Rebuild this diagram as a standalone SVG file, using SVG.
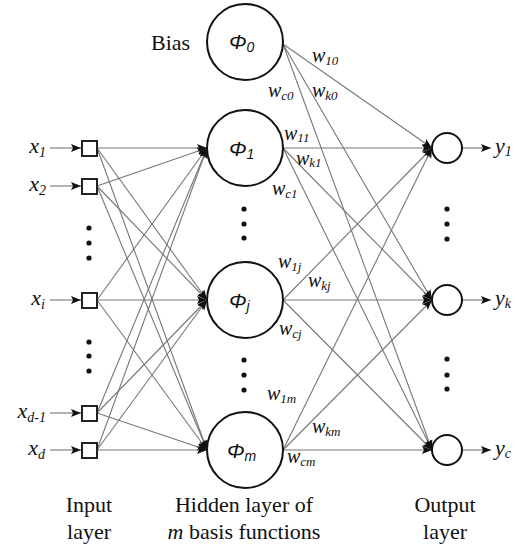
<svg xmlns="http://www.w3.org/2000/svg" width="524" height="548" viewBox="0 0 524 548">
<style>
text{font-family:'Liberation Serif','Times New Roman',serif;font-size:22px;fill:#111}
.i{font-style:italic}
.s{font-size:14px}
.w text{font-size:20px;font-style:italic}
.w .s{font-size:13px}
text.phi{font-family:'Liberation Sans',Arial,sans-serif;font-style:italic;font-size:21px}
.c{fill:#fff;stroke:#111;stroke-width:2}
.sq{fill:#fff;stroke:#222;stroke-width:2}
.ln line{stroke:#777;stroke-width:1.1;marker-end:url(#ah)}
.dot{fill:#111}
</style>
<defs>
<marker id="ah" markerUnits="userSpaceOnUse" markerWidth="11" markerHeight="9" refX="10" refY="4" orient="auto">
<path d="M0,0 L10,4 L0,8 L2,4 z" fill="#111"/>
</marker>
</defs>
<g id="connectors" class="ln">
<line x1="50" y1="148" x2="81" y2="148"/>
<line x1="50" y1="186" x2="81" y2="186"/>
<line x1="50" y1="300" x2="81" y2="300"/>
<line x1="50" y1="413" x2="81" y2="413"/>
<line x1="50" y1="450" x2="81" y2="450"/>
<line x1="97" y1="148" x2="207" y2="148"/>
<line x1="97" y1="148" x2="207" y2="300"/>
<line x1="97" y1="148" x2="207" y2="450"/>
<line x1="97" y1="186" x2="207" y2="148"/>
<line x1="97" y1="186" x2="207" y2="300"/>
<line x1="97" y1="186" x2="207" y2="450"/>
<line x1="97" y1="300" x2="207" y2="148"/>
<line x1="97" y1="300" x2="207" y2="300"/>
<line x1="97" y1="300" x2="207" y2="450"/>
<line x1="97" y1="413" x2="207" y2="148"/>
<line x1="97" y1="413" x2="207" y2="300"/>
<line x1="97" y1="413" x2="207" y2="450"/>
<line x1="97" y1="450" x2="207" y2="148"/>
<line x1="97" y1="450" x2="207" y2="300"/>
<line x1="97" y1="450" x2="207" y2="450"/>
<line x1="283" y1="44" x2="432" y2="148"/>
<line x1="283" y1="44" x2="432" y2="300"/>
<line x1="283" y1="44" x2="432" y2="450"/>
<line x1="283" y1="148" x2="432" y2="148"/>
<line x1="283" y1="148" x2="432" y2="300"/>
<line x1="283" y1="148" x2="432" y2="450"/>
<line x1="283" y1="300" x2="432" y2="148"/>
<line x1="283" y1="300" x2="432" y2="300"/>
<line x1="283" y1="300" x2="432" y2="450"/>
<line x1="283" y1="450" x2="432" y2="148"/>
<line x1="283" y1="450" x2="432" y2="300"/>
<line x1="283" y1="450" x2="432" y2="450"/>
<line x1="462" y1="148" x2="491" y2="148"/>
<line x1="462" y1="300" x2="491" y2="300"/>
<line x1="462" y1="450" x2="491" y2="450"/>
</g>
<g id="weights" class="w">
<text x="312" y="62">w<tspan class="s" dy="3">10</tspan></text>
<text x="268" y="97">w<tspan class="s" dy="3">c0</tspan></text>
<text x="312" y="97">w<tspan class="s" dy="3">k0</tspan></text>
<text x="284" y="140">w<tspan class="s" dy="2">11</tspan></text>
<text x="296" y="165">w<tspan class="s" dy="2">k1</tspan></text>
<text x="272" y="195">w<tspan class="s" dy="3">c1</tspan></text>
<text x="278" y="268">w<tspan class="s" dy="3">1j</tspan></text>
<text x="308" y="287">w<tspan class="s" dy="3">kj</tspan></text>
<text x="279" y="335">w<tspan class="s" dy="3">cj</tspan></text>
<text x="267" y="400">w<tspan class="s" dy="3">1m</tspan></text>
<text x="312" y="433">w<tspan class="s" dy="3">km</tspan></text>
<text x="287" y="463">w<tspan class="s" dy="3">cm</tspan></text>
</g>
<g id="input-1"><rect class="sq" x="82" y="141" width="15" height="15"/><text class="i" x="46" y="153" text-anchor="end">x<tspan class="s" dy="4">1</tspan></text></g>
<g id="input-2"><rect class="sq" x="82" y="179" width="15" height="15"/><text class="i" x="46" y="191" text-anchor="end">x<tspan class="s" dy="4">2</tspan></text></g>
<g id="input-i"><rect class="sq" x="82" y="293" width="15" height="15"/><text class="i" x="45" y="305" text-anchor="end">x<tspan class="s" dy="4">i</tspan></text></g>
<g id="input-d1"><rect class="sq" x="82" y="406" width="15" height="15"/><text class="i" x="46" y="418" text-anchor="end">x<tspan class="s" dy="4">d-1</tspan></text></g>
<g id="input-d"><rect class="sq" x="82" y="443" width="15" height="15"/><text class="i" x="45" y="455" text-anchor="end">x<tspan class="s" dy="4">d</tspan></text></g>
<g id="input-dots" class="dot"><circle cx="89" cy="228" r="2.6"/><circle cx="89" cy="243" r="2.6"/><circle cx="89" cy="258" r="2.6"/><circle cx="89" cy="342" r="2.6"/><circle cx="89" cy="356" r="2.6"/><circle cx="89" cy="371" r="2.6"/></g>
<g id="bias"><circle class="c" cx="245" cy="42" r="38"/><text x="151" y="50">Bias</text><text class="phi" x="229" y="49">Φ<tspan class="s" dy="3">0</tspan></text></g>
<g id="hidden-1"><circle class="c" cx="245" cy="148" r="38"/><text class="phi" x="229" y="156">Φ<tspan class="s" dy="3">1</tspan></text></g>
<g id="hidden-j"><circle class="c" cx="245" cy="300" r="38"/><text class="phi" x="229" y="308">Φ<tspan class="s" dy="3">j</tspan></text></g>
<g id="hidden-m"><circle class="c" cx="245" cy="450" r="38"/><text class="phi" x="227" y="458">Φ<tspan class="s" dy="3">m</tspan></text></g>
<g id="hidden-dots" class="dot"><circle cx="244" cy="209" r="2.6"/><circle cx="244" cy="224" r="2.6"/><circle cx="244" cy="238" r="2.6"/><circle cx="244" cy="360" r="2.6"/><circle cx="244" cy="375" r="2.6"/><circle cx="244" cy="390" r="2.6"/></g>
<g id="output-1"><circle class="c" cx="447" cy="148" r="15"/><text class="i" x="495" y="153">y<tspan class="s" dy="3">1</tspan></text></g>
<g id="output-k"><circle class="c" cx="447" cy="300" r="15"/><text class="i" x="495" y="305">y<tspan class="s" dy="3">k</tspan></text></g>
<g id="output-c"><circle class="c" cx="447" cy="450" r="15"/><text class="i" x="495" y="455">y<tspan class="s" dy="3">c</tspan></text></g>
<g id="output-dots" class="dot"><circle cx="447" cy="209" r="2.6"/><circle cx="447" cy="224" r="2.6"/><circle cx="447" cy="239" r="2.6"/><circle cx="447" cy="359" r="2.6"/><circle cx="447" cy="375" r="2.6"/><circle cx="447" cy="389" r="2.6"/></g>
<g id="labels" text-anchor="middle">
<text x="89" y="512">Input</text><text x="89" y="539">layer</text>
<text x="244" y="512">Hidden layer of</text><text x="244" y="539"><tspan class="i">m</tspan> basis functions</text>
<text x="445" y="512">Output</text><text x="445" y="539">layer</text>
</g>
</svg>
